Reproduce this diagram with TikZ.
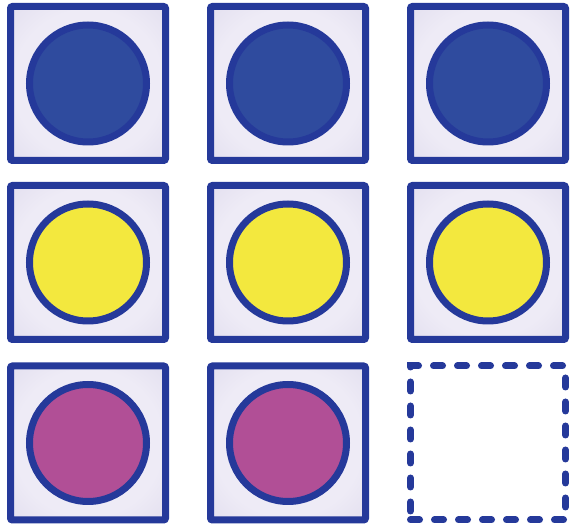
\documentclass[tikz,border=0pt]{standalone}
\definecolor{edge}{HTML}{25399A}
\definecolor{tilein}{HTML}{EEEBF6}
\definecolor{tileout}{HTML}{D5D1E7}
\definecolor{bluefill}{HTML}{2F4B9E}
\definecolor{yellowfill}{HTML}{F3E83E}
\definecolor{pinkfill}{HTML}{B14F96}
\pgfdeclareradialshading{tileshade}{\pgfpoint{0bp}{0bp}}{%
  color(0bp)=(tilein); color(24bp)=(tilein); color(50bp)=(tileout)}
\tikzset{
  tile/.style={rectangle, draw=edge, line width=7pt, rounded corners=2pt,
    minimum width=155pt, minimum height=154pt, inner sep=0pt,
    shading=tileshade},
  emptytile/.style={rectangle, draw=edge, line width=7pt, line cap=round,
    dash pattern=on 9pt off 15pt, minimum width=155pt, minimum height=154pt, inner sep=0pt},
  disc/.style={circle, draw=edge, line width=7pt, minimum size=117pt, inner sep=0pt},
}
\begin{document}
\begin{tikzpicture}[x=1pt,y=-1pt]
\useasboundingbox (0,0) rectangle (571,526);
% row 1
\node[tile] (t11) at (88,83.5) {};
\node[tile] (t12) at (288,83.5) {};
\node[tile] (t13) at (488,83.5) {};
% row 2
\node[tile] (t21) at (88,262.5) {};
\node[tile] (t22) at (288,262.5) {};
\node[tile] (t23) at (488,262.5) {};
% row 3
\node[tile] (t31) at (88,443) {};
\node[tile] (t32) at (288,443) {};
\node[emptytile] (t33) at (488,443) {};
% discs
\node[disc, fill=bluefill] (c11) at (t11) {};
\node[disc, fill=bluefill] (c12) at (t12) {};
\node[disc, fill=bluefill] (c13) at (t13) {};
\node[disc, fill=yellowfill] (c21) at (t21) {};
\node[disc, fill=yellowfill] (c22) at (t22) {};
\node[disc, fill=yellowfill] (c23) at (t23) {};
\node[disc, fill=pinkfill] (c31) at (t31) {};
\node[disc, fill=pinkfill] (c32) at (t32) {};
\end{tikzpicture}
\end{document}
